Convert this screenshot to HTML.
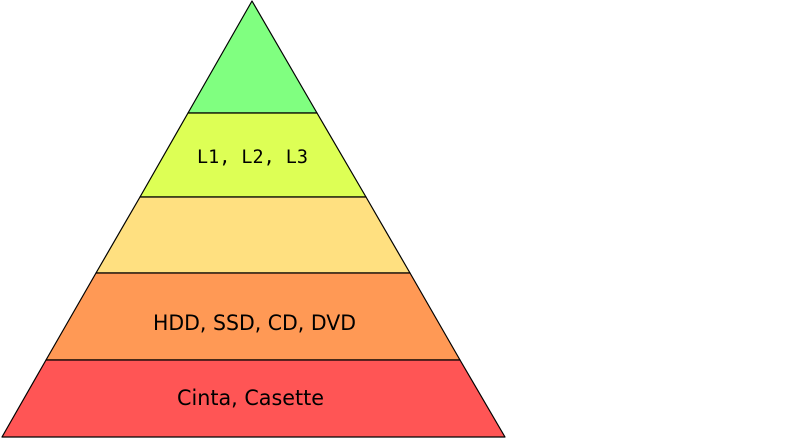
<!DOCTYPE html>
<html><head><style>body{margin:0;background:#fff}svg{display:block}</style></head>
<body>
<svg width="796" height="438" xmlns="http://www.w3.org/2000/svg">
<g stroke="#000" stroke-width="1.2" stroke-linejoin="round">
<polygon points="252,1 317,113 188,113" fill="#80ff80"/>
<polygon points="188,113 317,113 366,197 140,197" fill="#ddff55"/>
<polygon points="140,197 366,197 410,273 96,273" fill="#ffe080"/>
<polygon points="96,273 410,273 460,360 46,360" fill="#ff9955"/>
<polygon points="46,360 460,360 505,437 2,437" fill="#ff5555"/>
</g>
<text x="197" y="163" textLength="111" lengthAdjust="spacingAndGlyphs" font-family="DejaVu Sans Mono, monospace" font-size="19">L1, L2, L3</text>
<text x="153" y="330" textLength="203" lengthAdjust="spacingAndGlyphs" font-family="DejaVu Sans, sans-serif" font-size="21">HDD, SSD, CD, DVD</text>
<text x="177" y="405" textLength="147" lengthAdjust="spacingAndGlyphs" font-family="DejaVu Sans, sans-serif" font-size="21">Cinta, Casette</text>
</svg>
</body></html>
